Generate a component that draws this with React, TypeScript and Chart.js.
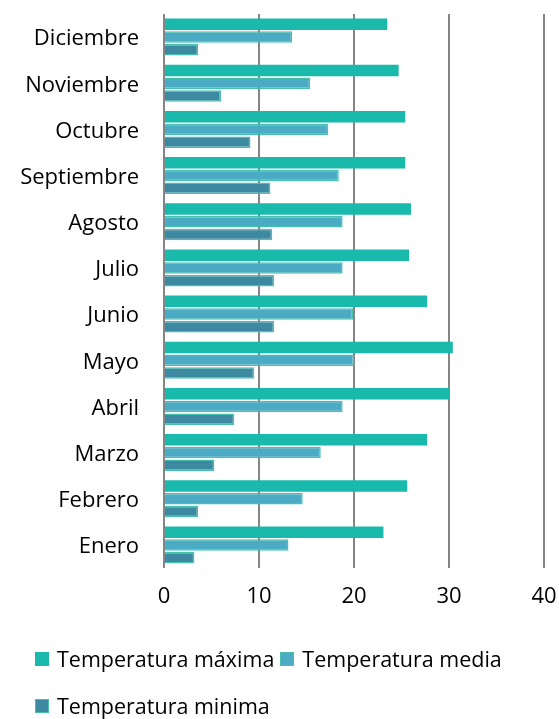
import React, { useEffect, useRef } from "react";
import { Chart, registerables } from "chart.js";

Chart.register(...registerables);

const months = ["Enero", "Febrero", "Marzo", "Abril", "Mayo", "Junio", "Julio", "Agosto", "Septiembre", "Octubre", "Noviembre", "Diciembre"];
const tempMax = [23.1, 25.6, 27.7, 30.0, 30.4, 27.7, 25.8, 26.0, 25.4, 25.4, 24.7, 23.5];
const tempMedia = [13.1, 14.6, 16.5, 18.8, 20.0, 19.9, 18.8, 18.8, 18.4, 17.3, 15.4, 13.5];
const tempMin = [3.2, 3.6, 5.3, 7.4, 9.5, 11.6, 11.6, 11.4, 11.2, 9.1, 6.0, 3.6];
const seriesNames = ["Temperatura máxima", "Temperatura media", "Temperatura minima"];
const xTicks = [0, 10, 20, 30, 40];

const FONT = "'Open Sans', sans-serif";
const colors = [
  { bg: "#19baab", border: "#19baab", bw: 0 },
  { bg: "#4babc5", border: "#47c0b0", bw: 1.5 },
  { bg: "#3c89a1", border: "#47c0b0", bw: 1.5 },
];

export default function App() {
  const ref = useRef<HTMLCanvasElement | null>(null);

  useEffect(() => {
    document.body.style.margin = "0";
    const rev = (a: any[]) => a.slice().reverse();
    const series = [tempMax, tempMedia, tempMin];
    const chart = new Chart(ref.current as HTMLCanvasElement, {
      type: "bar",
      data: {
        labels: rev(months),
        datasets: series.map((s, i) => ({
          label: seriesNames[i],
          data: rev(s),
          backgroundColor: colors[i].bg,
          borderColor: colors[i].border,
          borderWidth: colors[i].bw,
          categoryPercentage: 0.83,
          barPercentage: 0.9,
        })),
      },
      options: {
        indexAxis: "y",
        responsive: false,
        animation: false,
        devicePixelRatio: 1,
        layout: { padding: { top: 14, bottom: 101, left: 0, right: 15 } },
        plugins: { legend: { display: false }, tooltip: { enabled: false } },
        scales: {
          x: {
            min: xTicks[0],
            max: xTicks[xTicks.length - 1],
            afterBuildTicks: (scale: any) => {
              scale.ticks = xTicks.map((v) => ({ value: v }));
            },
            afterFit: (scale: any) => {
              scale.height = 50;
              scale.paddingLeft = 0;
              scale.paddingRight = 0;
              scale.paddingTop = 0;
              scale.paddingBottom = 0;
            },
            grid: { color: "#858585", lineWidth: 2, drawTicks: false },
            border: { display: false },
            ticks: { font: { family: FONT, size: 22 }, color: "#000", padding: 16, maxRotation: 0 },
          },
          y: {
            afterFit: (scale: any) => {
              scale.width = 164;
              scale.paddingLeft = 0;
              scale.paddingRight = 0;
              scale.paddingTop = 0;
              scale.paddingBottom = 0;
            },
            grid: { display: false, drawTicks: false },
            border: { display: false },
            ticks: { font: { family: FONT, size: 22 }, color: "#000", padding: 25, labelOffset: 2 },
          },
        },
      },
    } as any);
    return () => chart.destroy();
  }, []);

  return (
    <div style={{ position: "relative", width: 559, height: 719 }}>
      <canvas ref={ref} width={559} height={719} style={{ display: "block" }} />
      <div
        style={{
          position: "absolute",
          left: 35,
          top: 646,
          width: 524,
          display: "flex",
          flexWrap: "wrap",
          columnGap: 6,
          rowGap: 21,
          fontFamily: FONT,
          fontSize: 21.5,
          lineHeight: "26px",
          color: "#000",
        }}
      >
        {seriesNames.map((n, i) => (
          <div key={n} style={{ display: "flex", alignItems: "center", whiteSpace: "nowrap" }}>
            <span
              style={{
                display: "inline-block",
                width: 14,
                height: 14,
                boxSizing: "border-box",
                background: colors[i].bg,
                border: colors[i].bw ? `1.5px solid ${colors[i].border}` : "none",
                marginRight: 8,
              }}
            />
            <span>{n}</span>
          </div>
        ))}
      </div>
    </div>
  );
}
